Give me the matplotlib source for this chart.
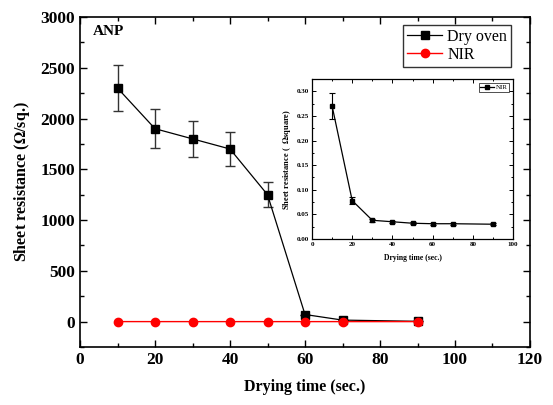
import matplotlib
matplotlib.use("Agg")
import matplotlib.pyplot as plt
from matplotlib.ticker import MultipleLocator

plt.rcParams['font.family'] = ['Liberation Serif', 'DejaVu Serif']
plt.rcParams['mathtext.fontset'] = 'stix'

# Drying time (s)
oven_time = [10, 20, 30, 40, 50, 60, 70, 90]
oven_res = [2300, 1900, 1800, 1700, 1250, 70, 15, 3]
oven_err = [230, 190, 180, 170, 125, 0, 0, 0]

nir_time = [10, 20, 30, 40, 50, 60, 70, 90]
nir_res = [0.27, 0.078, 0.038, 0.035, 0.032, 0.031, 0.031, 0.030]
nir_err = [0.027, 0.007, 0.003, 0.002, 0.002, 0.002, 0.002, 0.002]

x_ticks = [0, 20, 40, 60, 80, 100, 120]
y_ticks = [0, 500, 1000, 1500, 2000, 2500, 3000]
inset_x_ticks = [0, 20, 40, 60, 80, 100]
inset_y_ticks = [0.00, 0.05, 0.10, 0.15, 0.20, 0.25, 0.30]

fig = plt.figure(figsize=(5.53, 4.05), dpi=100)
ax = fig.add_axes([0.1447, 0.1432, 0.8137, 0.8148])

oven = ax.errorbar(oven_time, oven_res, yerr=oven_err, color='black', marker='s',
                   markersize=5.5, linewidth=0.9, elinewidth=1.0, capsize=3.5,
                   capthick=1.0, ecolor='#333333', zorder=3)
nir_line, = ax.plot(nir_time, nir_res, color='#ff0000', marker='o', markersize=6,
                    linewidth=1.0, zorder=4)

ax.set_xlim(0, 120)
ax.set_ylim(-250, 3000)
ax.set_xticks(x_ticks)
ax.set_yticks(y_ticks)
ax.xaxis.set_minor_locator(MultipleLocator(10))
ax.yaxis.set_minor_locator(MultipleLocator(250))
ax.tick_params(which='both', direction='in', top=True, right=True, width=1.0)
ax.tick_params(which='major', length=5)
ax.tick_params(which='minor', length=3)
for lbl in ax.get_xticklabels() + ax.get_yticklabels():
    lbl.set_fontweight('bold')
    lbl.set_fontsize(12.5)
for s in ax.spines.values():
    s.set_linewidth(1.2)

ax.set_xlabel('Drying time (sec.)', fontsize=11.5, fontweight='bold', labelpad=8)
ax.set_ylabel('Sheet resistance ($\\mathbf{\\Omega}$/sq.)', fontsize=11.5,
              fontweight='bold', labelpad=6)
ax.text(0.028, 0.975, 'ANP', transform=ax.transAxes, fontsize=11,
        fontweight='bold', va='top', ha='left')

leg = ax.legend([oven[0], nir_line], ['Dry oven', 'NIR'], loc='upper right',
                bbox_to_anchor=(0.958, 0.976), fontsize=11.5,
                frameon=True, fancybox=False, edgecolor='black',
                handlelength=2.2, handletextpad=0.3, borderpad=0.25,
                labelspacing=0.1, borderaxespad=0.0)
leg.get_frame().set_linewidth(1.0)

# Inset: NIR-dried samples on their own scale
ins = fig.add_axes([0.5642, 0.4099, 0.3635, 0.3951])
nir_eb = ins.errorbar(nir_time, nir_res, yerr=nir_err, color='black', marker='s',
                      markersize=3.5, linewidth=0.9, elinewidth=0.8, capsize=2,
                      capthick=0.8)
ins.set_xlim(0, 100)
ins.set_ylim(0, 0.325)
ins.set_xticks(inset_x_ticks)
ins.set_yticks(inset_y_ticks)
ins.set_yticklabels(['%.2f' % v for v in inset_y_ticks])
ins.xaxis.set_minor_locator(MultipleLocator(10))
ins.yaxis.set_minor_locator(MultipleLocator(0.025))
ins.tick_params(which='both', direction='in', top=True, right=True,
                width=0.7, labelsize=5, pad=2)
ins.tick_params(which='major', length=3)
ins.tick_params(which='minor', length=1.5)
for lbl in ins.get_xticklabels() + ins.get_yticklabels():
    lbl.set_fontweight('bold')
for s in ins.spines.values():
    s.set_linewidth(0.9)
ins.set_xlabel('Drying time (sec.)', fontsize=5.5, fontweight='bold', labelpad=5)
ins.set_ylabel('Sheet resistance (  $\\mathbf{\\Omega}$square)', fontsize=6,
               fontweight='bold', labelpad=3)
il = ins.legend([nir_eb[0]], ['NIR'], loc='upper right', fontsize=5,
                frameon=True, fancybox=False, edgecolor='black',
                handlelength=2.0, handletextpad=0.2, borderpad=0.2,
                borderaxespad=0.6)
il.get_frame().set_linewidth(0.6)

fig.savefig('out.png', dpi=100)
